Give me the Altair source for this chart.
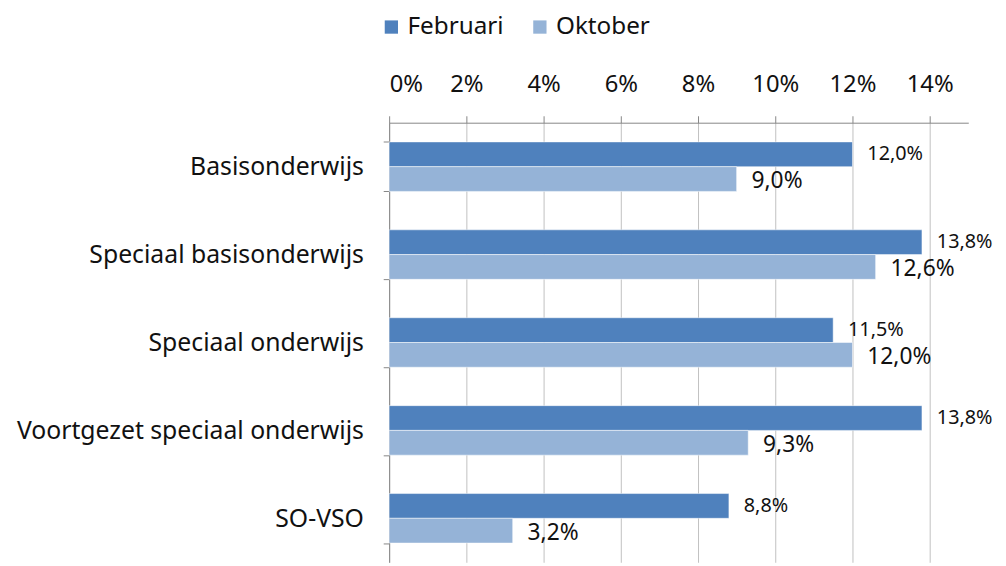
import altair as alt
import pandas as pd

categories = ["Basisonderwijs", "Speciaal basisonderwijs", "Speciaal onderwijs",
              "Voortgezet speciaal onderwijs", "SO-VSO"]
februari = [12.0, 13.8, 11.5, 13.8, 8.8]
oktober = [9.0, 12.6, 12.0, 9.3, 3.2]
series = ["Februari", "Oktober"]
colors = ["#4F81BD", "#95B3D7"]
x_ticks = [0, 0.02, 0.04, 0.06, 0.08, 0.10, 0.12, 0.14]

rows = []
for c, f, o in zip(categories, februari, oktober):
    for s, v in zip(series, [f, o]):
        rows.append({"cat": c, "series": s, "value": v / 100,
                     "label": f"{v:.1f}".replace(".", ",") + "%"})
df = pd.DataFrame(rows)

FONT = "Noto Sans"

base = alt.Chart(df).encode(
    y=alt.Y("cat:N", sort=categories,
            scale=alt.Scale(paddingInner=0.437, paddingOuter=0.2185),
            axis=alt.Axis(title=None, labelFontSize=25, labelFont=FONT, labelColor="#111111",
                          labelPadding=20, tickSize=6, tickColor="#868686", tickBand="extent",
                          domainColor="#868686", labelLimit=400)),
    yOffset=alt.YOffset("series:N", sort=series, scale=alt.Scale(paddingInner=0, paddingOuter=0)),
)

bars = base.mark_bar(stroke="white", strokeWidth=0.5).encode(
    x=alt.X("value:Q", scale=alt.Scale(domain=[0, 0.15], nice=False),
            axis=alt.Axis(orient="top", values=x_ticks, format=".0%", title=None,
                          labelFontSize=24, labelFont=FONT, labelColor="#111111",
                          labelPadding=20, tickSize=7, tickColor="#868686",
                          domainColor="#868686", gridColor="#C0C0C0", grid=True)),
    color=alt.Color("series:N", sort=series, scale=alt.Scale(domain=series, range=colors),
                    legend=alt.Legend(title=None, orient="none", direction="horizontal",
                                      legendX=-10, legendY=-109, symbolType="square",
                                      symbolSize=180, symbolStrokeWidth=0, labelFontSize=24.5,
                                      labelFont=FONT, labelColor="#111111", labelOffset=4,
                                      columnPadding=24)),
)

lab_feb = base.mark_text(align="left", baseline="middle", dx=15, dy=0, fontSize=20,
                         font=FONT, color="#111111").encode(
    x="value:Q", text="label:N").transform_filter(alt.datum.series == "Februari")
lab_okt = base.mark_text(align="left", baseline="middle", dx=15, dy=2, fontSize=23,
                         font=FONT, color="#111111").encode(
    x="value:Q", text="label:N").transform_filter(alt.datum.series == "Oktober")

chart = alt.layer(bars, lab_feb, lab_okt).properties(
    width=585, height=444,
    autosize=alt.AutoSizeParams(type="none"),
    padding={"left": 385, "top": 113, "right": 30, "bottom": 10},
).configure_view(stroke=None)

chart.save("out.html", embed_options={"renderer": "svg", "actions": False})
